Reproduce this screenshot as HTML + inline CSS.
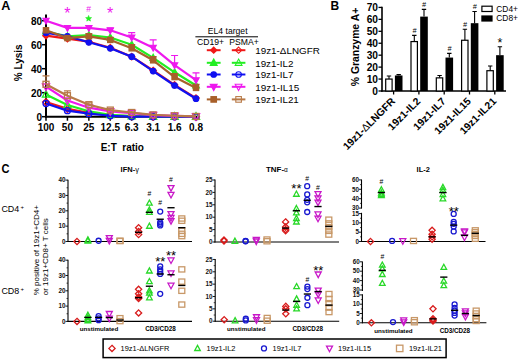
<!DOCTYPE html>
<html><head><meta charset="utf-8"><style>
html,body{margin:0;padding:0;background:#fff;}
body{width:520px;height:360px;overflow:hidden;}
svg{display:block;font-family:"Liberation Sans", sans-serif;}
</style></head><body>
<svg width="520" height="360" viewBox="0 0 520 360">
<rect width="520" height="360" fill="#fff"/>
<text x="1.3" y="10.2" font-size="12.6" font-weight="bold" text-anchor="start" fill="#000">A</text>
<path d="M46 14.4V117.7" stroke="#000" stroke-width="2" fill="none"/>
<path d="M45 116.7H197.01" stroke="#000" stroke-width="2" fill="none"/>
<path d="M42 116.7H46" stroke="#000" stroke-width="1.5"/>
<text x="42" y="121" font-size="10" font-weight="bold" text-anchor="end" fill="#000">0</text>
<path d="M42 92.7H46" stroke="#000" stroke-width="1.5"/>
<text x="42" y="97" font-size="10" font-weight="bold" text-anchor="end" fill="#000">20</text>
<path d="M42 68.7H46" stroke="#000" stroke-width="1.5"/>
<text x="42" y="73" font-size="10" font-weight="bold" text-anchor="end" fill="#000">40</text>
<path d="M42 44.7H46" stroke="#000" stroke-width="1.5"/>
<text x="42" y="49" font-size="10" font-weight="bold" text-anchor="end" fill="#000">60</text>
<path d="M42 20.7H46" stroke="#000" stroke-width="1.5"/>
<text x="42" y="25" font-size="10" font-weight="bold" text-anchor="end" fill="#000">80</text>
<path d="M46 116.7V120.7" stroke="#000" stroke-width="1.5"/>
<text x="46" y="131.3" font-size="10" font-weight="bold" text-anchor="middle" fill="#000">100</text>
<path d="M67.43 116.7V120.7" stroke="#000" stroke-width="1.5"/>
<text x="67.43" y="131.3" font-size="10" font-weight="bold" text-anchor="middle" fill="#000">50</text>
<path d="M88.86 116.7V120.7" stroke="#000" stroke-width="1.5"/>
<text x="88.86" y="131.3" font-size="10" font-weight="bold" text-anchor="middle" fill="#000">25</text>
<path d="M110.29 116.7V120.7" stroke="#000" stroke-width="1.5"/>
<text x="110.29" y="131.3" font-size="10" font-weight="bold" text-anchor="middle" fill="#000">12.5</text>
<path d="M131.72 116.7V120.7" stroke="#000" stroke-width="1.5"/>
<text x="131.72" y="131.3" font-size="10" font-weight="bold" text-anchor="middle" fill="#000">6.3</text>
<path d="M153.15 116.7V120.7" stroke="#000" stroke-width="1.5"/>
<text x="153.15" y="131.3" font-size="10" font-weight="bold" text-anchor="middle" fill="#000">3.1</text>
<path d="M174.58 116.7V120.7" stroke="#000" stroke-width="1.5"/>
<text x="174.58" y="131.3" font-size="10" font-weight="bold" text-anchor="middle" fill="#000">1.6</text>
<path d="M196.01 116.7V120.7" stroke="#000" stroke-width="1.5"/>
<text x="196.01" y="131.3" font-size="10" font-weight="bold" text-anchor="middle" fill="#000">0.8</text>
<text x="122.3" y="150.8" font-size="10" font-weight="bold" text-anchor="middle" fill="#000">E:T&#160; ratio</text>
<text x="0" y="0" font-size="10" font-weight="bold" text-anchor="middle" fill="#000" transform="translate(22 62.8) rotate(-90)">% Lysis</text>
<polyline points="46,102.06 67.43,108.9 88.86,112.74 110.29,115.5 131.72,116.22 153.15,116.7 174.58,116.7 196.01,116.7" fill="none" stroke="#f01818" stroke-width="2.2" stroke-linejoin="round"/>
<path d="M46 98.66L49.4 102.06L46 105.46L42.6 102.06Z" fill="none" stroke="#f01818" stroke-width="1.3"/>
<path d="M67.43 105.5L70.83 108.9L67.43 112.3L64.03 108.9Z" fill="none" stroke="#f01818" stroke-width="1.3"/>
<path d="M88.86 109.34L92.26 112.74L88.86 116.14L85.46 112.74Z" fill="none" stroke="#f01818" stroke-width="1.3"/>
<path d="M110.29 112.1L113.69 115.5L110.29 118.9L106.89 115.5Z" fill="none" stroke="#f01818" stroke-width="1.3"/>
<path d="M131.72 112.82L135.12 116.22L131.72 119.62L128.32 116.22Z" fill="none" stroke="#f01818" stroke-width="1.3"/>
<path d="M153.15 113.3L156.55 116.7L153.15 120.1L149.75 116.7Z" fill="none" stroke="#f01818" stroke-width="1.3"/>
<path d="M174.58 113.3L177.98 116.7L174.58 120.1L171.18 116.7Z" fill="none" stroke="#f01818" stroke-width="1.3"/>
<path d="M196.01 113.3L199.41 116.7L196.01 120.1L192.61 116.7Z" fill="none" stroke="#f01818" stroke-width="1.3"/>
<polyline points="46,94.5 67.43,104.94 88.86,111.3 110.29,114.9 131.72,116.1 153.15,116.7 174.58,116.7 196.01,116.7" fill="none" stroke="#22ee22" stroke-width="2.2" stroke-linejoin="round"/>
<path d="M46 90.54L49.6 97.2L42.4 97.2Z" fill="none" stroke="#22ee22" stroke-width="1.3"/>
<path d="M67.43 100.98L71.03 107.64L63.83 107.64Z" fill="none" stroke="#22ee22" stroke-width="1.3"/>
<path d="M88.86 107.34L92.46 114L85.26 114Z" fill="none" stroke="#22ee22" stroke-width="1.3"/>
<path d="M110.29 110.94L113.89 117.6L106.69 117.6Z" fill="none" stroke="#22ee22" stroke-width="1.3"/>
<path d="M131.72 112.14L135.32 118.8L128.12 118.8Z" fill="none" stroke="#22ee22" stroke-width="1.3"/>
<path d="M153.15 112.74L156.75 119.4L149.55 119.4Z" fill="none" stroke="#22ee22" stroke-width="1.3"/>
<path d="M174.58 112.74L178.18 119.4L170.98 119.4Z" fill="none" stroke="#22ee22" stroke-width="1.3"/>
<path d="M196.01 112.74L199.61 119.4L192.41 119.4Z" fill="none" stroke="#22ee22" stroke-width="1.3"/>
<polyline points="46,103.5 67.43,110.7 88.86,113.7 110.29,115.74 131.72,116.7 153.15,116.7 174.58,116.7 196.01,116.7" fill="none" stroke="#1010f0" stroke-width="2.2" stroke-linejoin="round"/>
<circle cx="46" cy="103.5" r="3" fill="none" stroke="#1010f0" stroke-width="1.3"/>
<circle cx="67.43" cy="110.7" r="3" fill="none" stroke="#1010f0" stroke-width="1.3"/>
<circle cx="88.86" cy="113.7" r="3" fill="none" stroke="#1010f0" stroke-width="1.3"/>
<circle cx="110.29" cy="115.74" r="3" fill="none" stroke="#1010f0" stroke-width="1.3"/>
<circle cx="131.72" cy="116.7" r="3" fill="none" stroke="#1010f0" stroke-width="1.3"/>
<circle cx="153.15" cy="116.7" r="3" fill="none" stroke="#1010f0" stroke-width="1.3"/>
<circle cx="174.58" cy="116.7" r="3" fill="none" stroke="#1010f0" stroke-width="1.3"/>
<circle cx="196.01" cy="116.7" r="3" fill="none" stroke="#1010f0" stroke-width="1.3"/>
<polyline points="46,86.7 67.43,100.5 88.86,107.7 110.29,111.3 131.72,113.1 153.15,115.14 174.58,115.86 196.01,116.34" fill="none" stroke="#ee18ee" stroke-width="2.2" stroke-linejoin="round"/>
<path d="M46 90.66L49.6 84L42.4 84Z" fill="none" stroke="#ee18ee" stroke-width="1.3"/>
<path d="M67.43 104.46L71.03 97.8L63.83 97.8Z" fill="none" stroke="#ee18ee" stroke-width="1.3"/>
<path d="M88.86 111.66L92.46 105L85.26 105Z" fill="none" stroke="#ee18ee" stroke-width="1.3"/>
<path d="M110.29 115.26L113.89 108.6L106.69 108.6Z" fill="none" stroke="#ee18ee" stroke-width="1.3"/>
<path d="M131.72 117.06L135.32 110.4L128.12 110.4Z" fill="none" stroke="#ee18ee" stroke-width="1.3"/>
<path d="M153.15 119.1L156.75 112.44L149.55 112.44Z" fill="none" stroke="#ee18ee" stroke-width="1.3"/>
<path d="M174.58 119.82L178.18 113.16L170.98 113.16Z" fill="none" stroke="#ee18ee" stroke-width="1.3"/>
<path d="M196.01 120.3L199.61 113.64L192.41 113.64Z" fill="none" stroke="#ee18ee" stroke-width="1.3"/>
<polyline points="46,84.3 67.43,95.7 88.86,104.7 110.29,110.1 131.72,112.5 153.15,114.9 174.58,115.74 196.01,116.46" fill="none" stroke="#b87a48" stroke-width="2.2" stroke-linejoin="round"/>
<path d="M46 84.3V75.9M42.5 75.9H49.5" stroke="#b87a48" stroke-width="1.2" fill="none"/>
<path d="M67.43 95.7V90.9M63.93 90.9H70.93" stroke="#b87a48" stroke-width="1.2" fill="none"/>
<path d="M88.86 104.7V102.9M85.36 102.9H92.36" stroke="#b87a48" stroke-width="1.2" fill="none"/>
<path d="M110.29 110.1V108.9M106.79 108.9H113.79" stroke="#b87a48" stroke-width="1.2" fill="none"/>
<path d="M131.72 112.5V111.9M128.22 111.9H135.22" stroke="#b87a48" stroke-width="1.2" fill="none"/>
<path d="M153.15 114.9V114.3M149.65 114.3H156.65" stroke="#b87a48" stroke-width="1.2" fill="none"/>
<path d="M174.58 115.74V115.38M171.08 115.38H178.08" stroke="#b87a48" stroke-width="1.2" fill="none"/>
<rect x="43" y="81.3" width="6" height="6" fill="none" stroke="#b87a48" stroke-width="1.3"/>
<rect x="64.43" y="92.7" width="6" height="6" fill="none" stroke="#b87a48" stroke-width="1.3"/>
<rect x="85.86" y="101.7" width="6" height="6" fill="none" stroke="#b87a48" stroke-width="1.3"/>
<rect x="107.29" y="107.1" width="6" height="6" fill="none" stroke="#b87a48" stroke-width="1.3"/>
<rect x="128.72" y="109.5" width="6" height="6" fill="none" stroke="#b87a48" stroke-width="1.3"/>
<rect x="150.15" y="111.9" width="6" height="6" fill="none" stroke="#b87a48" stroke-width="1.3"/>
<rect x="171.58" y="112.74" width="6" height="6" fill="none" stroke="#b87a48" stroke-width="1.3"/>
<rect x="193.01" y="113.46" width="6" height="6" fill="none" stroke="#b87a48" stroke-width="1.3"/>
<polyline points="46,35.7 67.43,38.7 88.86,41.7 110.29,47.7 131.72,56.7 153.15,70.5 174.58,84.9 196.01,98.1" fill="none" stroke="#f01818" stroke-width="2.2" stroke-linejoin="round"/>
<path d="M46 32.5L49.2 35.7L46 38.9L42.8 35.7Z" fill="#f01818" stroke="#f01818" stroke-width="1.3"/>
<path d="M67.43 35.5L70.63 38.7L67.43 41.9L64.23 38.7Z" fill="#f01818" stroke="#f01818" stroke-width="1.3"/>
<path d="M88.86 38.5L92.06 41.7L88.86 44.9L85.66 41.7Z" fill="#f01818" stroke="#f01818" stroke-width="1.3"/>
<path d="M110.29 44.5L113.49 47.7L110.29 50.9L107.09 47.7Z" fill="#f01818" stroke="#f01818" stroke-width="1.3"/>
<path d="M131.72 53.5L134.92 56.7L131.72 59.9L128.52 56.7Z" fill="#f01818" stroke="#f01818" stroke-width="1.3"/>
<path d="M153.15 67.3L156.35 70.5L153.15 73.7L149.95 70.5Z" fill="#f01818" stroke="#f01818" stroke-width="1.3"/>
<path d="M174.58 81.7L177.78 84.9L174.58 88.1L171.38 84.9Z" fill="#f01818" stroke="#f01818" stroke-width="1.3"/>
<path d="M196.01 94.9L199.21 98.1L196.01 101.3L192.81 98.1Z" fill="#f01818" stroke="#f01818" stroke-width="1.3"/>
<polyline points="46,31.5 67.43,36.3 88.86,35.1 110.29,37.5 131.72,44.7 153.15,57.9 174.58,72.3 196.01,85.5" fill="none" stroke="#22ee22" stroke-width="2.2" stroke-linejoin="round"/>
<path d="M46 27.98L49.2 33.9L42.8 33.9Z" fill="#22ee22" stroke="#22ee22" stroke-width="1.3"/>
<path d="M67.43 32.78L70.63 38.7L64.23 38.7Z" fill="#22ee22" stroke="#22ee22" stroke-width="1.3"/>
<path d="M88.86 31.58L92.06 37.5L85.66 37.5Z" fill="#22ee22" stroke="#22ee22" stroke-width="1.3"/>
<path d="M110.29 33.98L113.49 39.9L107.09 39.9Z" fill="#22ee22" stroke="#22ee22" stroke-width="1.3"/>
<path d="M131.72 41.18L134.92 47.1L128.52 47.1Z" fill="#22ee22" stroke="#22ee22" stroke-width="1.3"/>
<path d="M153.15 54.38L156.35 60.3L149.95 60.3Z" fill="#22ee22" stroke="#22ee22" stroke-width="1.3"/>
<path d="M174.58 68.78L177.78 74.7L171.38 74.7Z" fill="#22ee22" stroke="#22ee22" stroke-width="1.3"/>
<path d="M196.01 81.98L199.21 87.9L192.81 87.9Z" fill="#22ee22" stroke="#22ee22" stroke-width="1.3"/>
<polyline points="46,32.7 67.43,36.3 88.86,42.3 110.29,48.3 131.72,56.7 153.15,71.1 174.58,85.5 196.01,98.7" fill="none" stroke="#1010f0" stroke-width="2.2" stroke-linejoin="round"/>
<circle cx="46" cy="32.7" r="2.7" fill="#1010f0" stroke="#1010f0" stroke-width="1.3"/>
<circle cx="67.43" cy="36.3" r="2.7" fill="#1010f0" stroke="#1010f0" stroke-width="1.3"/>
<circle cx="88.86" cy="42.3" r="2.7" fill="#1010f0" stroke="#1010f0" stroke-width="1.3"/>
<circle cx="110.29" cy="48.3" r="2.7" fill="#1010f0" stroke="#1010f0" stroke-width="1.3"/>
<circle cx="131.72" cy="56.7" r="2.7" fill="#1010f0" stroke="#1010f0" stroke-width="1.3"/>
<circle cx="153.15" cy="71.1" r="2.7" fill="#1010f0" stroke="#1010f0" stroke-width="1.3"/>
<circle cx="174.58" cy="85.5" r="2.7" fill="#1010f0" stroke="#1010f0" stroke-width="1.3"/>
<circle cx="196.01" cy="98.7" r="2.7" fill="#1010f0" stroke="#1010f0" stroke-width="1.3"/>
<polyline points="46,30.3 67.43,38.1 88.86,36.3 110.29,39.9 131.72,48.3 153.15,60.3 174.58,77.1 196.01,87.9" fill="none" stroke="#a8602a" stroke-width="2.2" stroke-linejoin="round"/>
<path d="M88.86 36.3V33.9M85.36 33.9H92.36" stroke="#a8602a" stroke-width="1.2" fill="none"/>
<path d="M110.29 39.9V37.5M106.79 37.5H113.79" stroke="#a8602a" stroke-width="1.2" fill="none"/>
<path d="M131.72 48.3V44.7M128.22 44.7H135.22" stroke="#a8602a" stroke-width="1.2" fill="none"/>
<path d="M153.15 60.3V56.7M149.65 56.7H156.65" stroke="#a8602a" stroke-width="1.2" fill="none"/>
<path d="M174.58 77.1V73.5M171.08 73.5H178.08" stroke="#a8602a" stroke-width="1.2" fill="none"/>
<path d="M196.01 87.9V84.3M192.51 84.3H199.51" stroke="#a8602a" stroke-width="1.2" fill="none"/>
<rect x="43.4" y="27.7" width="5.2" height="5.2" fill="#a8602a" stroke="#a8602a" stroke-width="1.3"/>
<rect x="64.83" y="35.5" width="5.2" height="5.2" fill="#a8602a" stroke="#a8602a" stroke-width="1.3"/>
<rect x="86.26" y="33.7" width="5.2" height="5.2" fill="#a8602a" stroke="#a8602a" stroke-width="1.3"/>
<rect x="107.69" y="37.3" width="5.2" height="5.2" fill="#a8602a" stroke="#a8602a" stroke-width="1.3"/>
<rect x="129.12" y="45.7" width="5.2" height="5.2" fill="#a8602a" stroke="#a8602a" stroke-width="1.3"/>
<rect x="150.55" y="57.7" width="5.2" height="5.2" fill="#a8602a" stroke="#a8602a" stroke-width="1.3"/>
<rect x="171.98" y="74.5" width="5.2" height="5.2" fill="#a8602a" stroke="#a8602a" stroke-width="1.3"/>
<rect x="193.41" y="85.3" width="5.2" height="5.2" fill="#a8602a" stroke="#a8602a" stroke-width="1.3"/>
<polyline points="46,20.7 67.43,27.9 88.86,27.9 110.29,30.3 131.72,37.5 153.15,47.7 174.58,65.1 196.01,80.1" fill="none" stroke="#ee18ee" stroke-width="2.2" stroke-linejoin="round"/>
<path d="M110.29 30.3V27.9M106.79 27.9H113.79" stroke="#ee18ee" stroke-width="1.2" fill="none"/>
<path d="M131.72 37.5V32.7M128.22 32.7H135.22" stroke="#ee18ee" stroke-width="1.2" fill="none"/>
<path d="M153.15 47.7V39.9M149.65 39.9H156.65" stroke="#ee18ee" stroke-width="1.2" fill="none"/>
<path d="M174.58 65.1V55.5M171.08 55.5H178.08" stroke="#ee18ee" stroke-width="1.2" fill="none"/>
<path d="M196.01 80.1V72.9M192.51 72.9H199.51" stroke="#ee18ee" stroke-width="1.2" fill="none"/>
<path d="M46 24L49 18.45L43 18.45Z" fill="#ee18ee" stroke="#ee18ee" stroke-width="1.3"/>
<path d="M67.43 31.2L70.43 25.65L64.43 25.65Z" fill="#ee18ee" stroke="#ee18ee" stroke-width="1.3"/>
<path d="M88.86 31.2L91.86 25.65L85.86 25.65Z" fill="#ee18ee" stroke="#ee18ee" stroke-width="1.3"/>
<path d="M110.29 33.6L113.29 28.05L107.29 28.05Z" fill="#ee18ee" stroke="#ee18ee" stroke-width="1.3"/>
<path d="M131.72 40.8L134.72 35.25L128.72 35.25Z" fill="#ee18ee" stroke="#ee18ee" stroke-width="1.3"/>
<path d="M153.15 51L156.15 45.45L150.15 45.45Z" fill="#ee18ee" stroke="#ee18ee" stroke-width="1.3"/>
<path d="M174.58 68.4L177.58 62.85L171.58 62.85Z" fill="#ee18ee" stroke="#ee18ee" stroke-width="1.3"/>
<path d="M196.01 83.4L199.01 77.85L193.01 77.85Z" fill="#ee18ee" stroke="#ee18ee" stroke-width="1.3"/>
<text x="67.4" y="19.2" font-size="16" font-weight="normal" text-anchor="middle" fill="#ee18ee">*</text>
<text x="88.6" y="12.3" font-size="8.5" font-weight="normal" text-anchor="middle" fill="#ee18ee">#</text>
<text x="110.2" y="19.2" font-size="16" font-weight="normal" text-anchor="middle" fill="#ee18ee">*</text>
<path d="M88.6 15.5L89.39 17.51L91.55 17.64L89.88 19.02L90.43 21.11L88.6 19.95L86.77 21.11L87.32 19.02L85.65 17.64L87.81 17.51Z" fill="#22ee22" stroke="#22ee22" stroke-width="0.65"/>
<text x="227.7" y="34.3" font-size="8.6" font-weight="normal" text-anchor="middle" fill="#000">EL4 target</text>
<path d="M195.4 36.8H258" stroke="#000" stroke-width="1"/>
<text x="210.5" y="45" font-size="8.6" font-weight="normal" text-anchor="middle" fill="#000">CD19+</text>
<text x="244" y="45" font-size="8.6" font-weight="normal" text-anchor="middle" fill="#000">PSMA+</text>
<path d="M206.8 50.2H220.6" stroke="#f01818" stroke-width="2"/>
<path d="M231.8 50.2H245.4" stroke="#f01818" stroke-width="2"/>
<path d="M213.7 47.2L216.7 50.2L213.7 53.2L210.7 50.2Z" fill="#f01818" stroke="#f01818" stroke-width="1.3"/>
<path d="M238.6 47.1L241.7 50.2L238.6 53.3L235.5 50.2Z" fill="none" stroke="#f01818" stroke-width="1.1"/>
<text x="255.2" y="54.1" font-size="9.3" font-weight="normal" text-anchor="start" fill="#000" textLength="64.6" lengthAdjust="spacingAndGlyphs">19z1-&#916;LNGFR</text>
<path d="M206.8 62.8H220.6" stroke="#22ee22" stroke-width="2"/>
<path d="M231.8 62.8H245.4" stroke="#22ee22" stroke-width="2"/>
<path d="M213.7 59.17L217 65.27L210.4 65.27Z" fill="#22ee22" stroke="#22ee22" stroke-width="1.3"/>
<path d="M238.6 59.06L242 65.35L235.2 65.35Z" fill="none" stroke="#22ee22" stroke-width="1.1"/>
<text x="255.2" y="66.7" font-size="9.3" font-weight="normal" text-anchor="start" fill="#000" textLength="38.2" lengthAdjust="spacingAndGlyphs">19z1-IL2</text>
<path d="M206.8 74.5H220.6" stroke="#1010f0" stroke-width="2"/>
<path d="M231.8 74.5H245.4" stroke="#1010f0" stroke-width="2"/>
<circle cx="213.7" cy="74.5" r="2.7" fill="#1010f0" stroke="#1010f0" stroke-width="1.3"/>
<circle cx="238.6" cy="74.5" r="2.8" fill="none" stroke="#1010f0" stroke-width="1.1"/>
<text x="255.2" y="78.4" font-size="9.3" font-weight="normal" text-anchor="start" fill="#000" textLength="38.2" lengthAdjust="spacingAndGlyphs">19z1-IL7</text>
<path d="M206.8 86.8H220.6" stroke="#ee18ee" stroke-width="2"/>
<path d="M231.8 86.8H245.4" stroke="#ee18ee" stroke-width="2"/>
<path d="M213.7 90.43L217 84.33L210.4 84.33Z" fill="#ee18ee" stroke="#ee18ee" stroke-width="1.3"/>
<path d="M238.6 90.54L242 84.25L235.2 84.25Z" fill="none" stroke="#ee18ee" stroke-width="1.1"/>
<text x="255.2" y="90.7" font-size="9.3" font-weight="normal" text-anchor="start" fill="#000" textLength="44.2" lengthAdjust="spacingAndGlyphs">19z1-IL15</text>
<path d="M206.8 99.4H220.6" stroke="#a8602a" stroke-width="2"/>
<path d="M231.8 99.4H245.4" stroke="#b87a48" stroke-width="2"/>
<rect x="211" y="96.7" width="5.4" height="5.4" fill="#a8602a" stroke="#a8602a" stroke-width="1.3"/>
<rect x="235.8" y="96.6" width="5.6" height="5.6" fill="none" stroke="#b87a48" stroke-width="1.1"/>
<text x="255.2" y="103.3" font-size="9.3" font-weight="normal" text-anchor="start" fill="#000" textLength="43.6" lengthAdjust="spacingAndGlyphs">19z1-IL21</text>
<text x="330.5" y="10" font-size="12" font-weight="bold" text-anchor="start" fill="#000">B</text>
<path d="M382 6.82V91.8" stroke="#000" stroke-width="1.6" fill="none"/>
<path d="M381.2 91H506" stroke="#000" stroke-width="1.6" fill="none"/>
<path d="M378.5 91H382" stroke="#000" stroke-width="1.3"/>
<text x="378" y="94.7" font-size="10.2" font-weight="bold" text-anchor="end" fill="#000">0</text>
<path d="M378.5 79.06H382" stroke="#000" stroke-width="1.3"/>
<text x="378" y="82.76" font-size="10.2" font-weight="bold" text-anchor="end" fill="#000">10</text>
<path d="M378.5 67.12H382" stroke="#000" stroke-width="1.3"/>
<text x="378" y="70.82" font-size="10.2" font-weight="bold" text-anchor="end" fill="#000">20</text>
<path d="M378.5 55.18H382" stroke="#000" stroke-width="1.3"/>
<text x="378" y="58.88" font-size="10.2" font-weight="bold" text-anchor="end" fill="#000">30</text>
<path d="M378.5 43.24H382" stroke="#000" stroke-width="1.3"/>
<text x="378" y="46.94" font-size="10.2" font-weight="bold" text-anchor="end" fill="#000">40</text>
<path d="M378.5 31.3H382" stroke="#000" stroke-width="1.3"/>
<text x="378" y="35" font-size="10.2" font-weight="bold" text-anchor="end" fill="#000">50</text>
<path d="M378.5 19.36H382" stroke="#000" stroke-width="1.3"/>
<text x="378" y="23.06" font-size="10.2" font-weight="bold" text-anchor="end" fill="#000">60</text>
<path d="M378.5 7.42H382" stroke="#000" stroke-width="1.3"/>
<text x="378" y="11.12" font-size="10.2" font-weight="bold" text-anchor="end" fill="#000">70</text>
<text x="0" y="0" font-size="10.4" font-weight="bold" text-anchor="middle" fill="#000" transform="translate(358.9 47) rotate(-90)">% Granzyme A+</text>
<path d="M393.6 91V94.5" stroke="#000" stroke-width="1.3"/>
<path d="M389 79.06V75.96M386.8 75.96H391.2" stroke="#000" stroke-width="1.1"/>
<rect x="385.7" y="79.06" width="6.4" height="11.94" fill="#fff" stroke="#000" stroke-width="1.2"/>
<path d="M398.7 75.48V74.64M396.5 74.64H400.9" stroke="#000" stroke-width="1.1"/>
<rect x="394.9" y="75.48" width="7.6" height="15.52" fill="#000"/>
<path d="M418.9 91V94.5" stroke="#000" stroke-width="1.3"/>
<path d="M414.3 41.57V35.36M412.1 35.36H416.5" stroke="#000" stroke-width="1.1"/>
<rect x="411" y="41.57" width="6.4" height="49.43" fill="#fff" stroke="#000" stroke-width="1.2"/>
<path d="M424 16.61V9.33M421.8 9.33H426.2" stroke="#000" stroke-width="1.1"/>
<rect x="420.2" y="16.61" width="7.6" height="74.39" fill="#000"/>
<path d="M444.2 91V94.5" stroke="#000" stroke-width="1.3"/>
<path d="M439.6 77.87V75.48M437.4 75.48H441.8" stroke="#000" stroke-width="1.1"/>
<rect x="436.3" y="77.87" width="6.4" height="13.13" fill="#fff" stroke="#000" stroke-width="1.2"/>
<path d="M449.3 57.57V53.39M447.1 53.39H451.5" stroke="#000" stroke-width="1.1"/>
<rect x="445.5" y="57.57" width="7.6" height="33.43" fill="#000"/>
<path d="M469.5 91V94.5" stroke="#000" stroke-width="1.3"/>
<path d="M464.9 40.26V29.27M462.7 29.27H467.1" stroke="#000" stroke-width="1.1"/>
<rect x="461.6" y="40.26" width="6.4" height="50.74" fill="#fff" stroke="#000" stroke-width="1.2"/>
<path d="M474.6 23.18V11.48M472.4 11.48H476.8" stroke="#000" stroke-width="1.1"/>
<rect x="470.8" y="23.18" width="7.6" height="67.82" fill="#000"/>
<path d="M494.8 91V94.5" stroke="#000" stroke-width="1.3"/>
<path d="M490.2 70.7V65.93M488 65.93H492.4" stroke="#000" stroke-width="1.1"/>
<rect x="486.9" y="70.7" width="6.4" height="20.3" fill="#fff" stroke="#000" stroke-width="1.2"/>
<path d="M499.9 55.18V46.82M497.7 46.82H502.1" stroke="#000" stroke-width="1.1"/>
<rect x="496.1" y="55.18" width="7.6" height="35.82" fill="#000"/>
<text x="414.4" y="32.86" font-size="7.2" font-weight="normal" text-anchor="middle" fill="#000" font-style="italic">#</text>
<text x="424.1" y="6.83" font-size="7.2" font-weight="normal" text-anchor="middle" fill="#000" font-style="italic">#</text>
<text x="449.4" y="50.89" font-size="7.2" font-weight="normal" text-anchor="middle" fill="#000" font-style="italic">#</text>
<text x="465" y="26.77" font-size="7.2" font-weight="normal" text-anchor="middle" fill="#000" font-style="italic">#</text>
<text x="474.7" y="8.98" font-size="7.2" font-weight="normal" text-anchor="middle" fill="#000" font-style="italic">#</text>
<text x="499.9" y="47" font-size="12.5" font-weight="normal" text-anchor="middle" fill="#000">*</text>
<text x="0" y="0" font-size="10.4" font-weight="bold" text-anchor="end" fill="#000" transform="translate(395.8 101.9) rotate(-45)">19z1-<tspan font-weight="normal">&#916;</tspan>LNGFR</text>
<text x="0" y="0" font-size="10.4" font-weight="bold" text-anchor="end" fill="#000" transform="translate(421.1 101.9) rotate(-45)">19z1-IL2</text>
<text x="0" y="0" font-size="10.4" font-weight="bold" text-anchor="end" fill="#000" transform="translate(446.4 101.9) rotate(-45)">19z1-IL7</text>
<text x="0" y="0" font-size="10.4" font-weight="bold" text-anchor="end" fill="#000" transform="translate(471.7 101.9) rotate(-45)">19z1-IL15</text>
<text x="0" y="0" font-size="10.4" font-weight="bold" text-anchor="end" fill="#000" transform="translate(497 101.9) rotate(-45)">19z1-IL21</text>
<rect x="481.9" y="6.2" width="10.2" height="5.3" fill="#fff" stroke="#000" stroke-width="1.2"/>
<rect x="481.3" y="15.4" width="11.3" height="6.2" fill="#000"/>
<text x="496.3" y="11.7" font-size="8.4" font-weight="normal" text-anchor="start" fill="#000">CD4+</text>
<text x="496.3" y="21.4" font-size="8.4" font-weight="normal" text-anchor="start" fill="#000">CD8+</text>
<text x="1.4" y="172.9" font-size="12" font-weight="bold" text-anchor="start" fill="#000" textLength="8" lengthAdjust="spacingAndGlyphs">C</text>
<text x="1.4" y="211.8" font-size="9.7" fill="#000" textLength="17.9" lengthAdjust="spacingAndGlyphs">CD4</text>
<text x="20.4" y="208.6" font-size="6" fill="#000">+</text>
<text x="1.4" y="294.3" font-size="9.7" fill="#000" textLength="17.9" lengthAdjust="spacingAndGlyphs">CD8</text>
<text x="20.4" y="291.1" font-size="6" fill="#000">+</text>
<text x="0" y="0" font-size="8" font-weight="normal" text-anchor="start" fill="#000" transform="translate(39.3 295.3) rotate(-90)">% positive of 19z1+CD4+</text>
<text x="0" y="0" font-size="8" font-weight="normal" text-anchor="start" fill="#000" transform="translate(48.2 295.3) rotate(-90)">or 19z1+CD8+ T cells</text>
<path d="M68 179.7V242" stroke="#000" stroke-width="1.1"/>
<path d="M67.5 241.5H192" stroke="#000" stroke-width="1.1"/>
<path d="M66.5 233.82H68" stroke="#000" stroke-width="0.7"/>
<path d="M66.5 218.47H68" stroke="#000" stroke-width="0.7"/>
<path d="M66.5 203.12H68" stroke="#000" stroke-width="0.7"/>
<path d="M66.5 187.78H68" stroke="#000" stroke-width="0.7"/>
<path d="M65.5 241.5H68" stroke="#000" stroke-width="0.9"/>
<text x="65.4" y="243.7" font-size="6.3" font-weight="bold" text-anchor="end" fill="#111">0</text>
<path d="M65.5 226.15H68" stroke="#000" stroke-width="0.9"/>
<text x="65.4" y="228.35" font-size="6.3" font-weight="bold" text-anchor="end" fill="#111">10</text>
<path d="M65.5 210.8H68" stroke="#000" stroke-width="0.9"/>
<text x="65.4" y="213" font-size="6.3" font-weight="bold" text-anchor="end" fill="#111">20</text>
<path d="M65.5 195.45H68" stroke="#000" stroke-width="0.9"/>
<text x="65.4" y="197.65" font-size="6.3" font-weight="bold" text-anchor="end" fill="#111">30</text>
<path d="M65.5 180.1H68" stroke="#000" stroke-width="0.9"/>
<text x="65.4" y="182.3" font-size="6.3" font-weight="bold" text-anchor="end" fill="#111">40</text>
<path d="M77 238.4L80.1 241.5L77 244.6L73.9 241.5Z" fill="none" stroke="#d81c1c" stroke-width="1.3"/>
<path d="M87.9 236.88L90.7 242.06L85.1 242.06Z" fill="none" stroke="#28d828" stroke-width="1.3"/>
<path d="M87.9 237.81L90.7 242.99L85.1 242.99Z" fill="none" stroke="#28d828" stroke-width="1.3"/>
<circle cx="98.6" cy="240.73" r="2.5" fill="none" stroke="#1818d0" stroke-width="1.3"/>
<path d="M109.3 241.12L112.3 235.57L106.3 235.57Z" fill="none" stroke="#c818c8" stroke-width="1.3"/>
<path d="M109.3 243.88L112.3 238.33L106.3 238.33Z" fill="none" stroke="#c818c8" stroke-width="1.3"/>
<rect x="117" y="238.44" width="5.99" height="5.21" fill="none" stroke="#c89868" stroke-width="1.3"/>
<rect x="117" y="238.13" width="5.99" height="5.21" fill="none" stroke="#c89868" stroke-width="1.3"/>
<path d="M138.6 224.59L141.7 227.69L138.6 230.78L135.5 227.69Z" fill="none" stroke="#d81c1c" stroke-width="1.3"/>
<path d="M138.6 228.42L141.7 231.52L138.6 234.62L135.5 231.52Z" fill="none" stroke="#d81c1c" stroke-width="1.3"/>
<path d="M138.6 231.49L141.7 234.59L138.6 237.69L135.5 234.59Z" fill="none" stroke="#d81c1c" stroke-width="1.3"/>
<path d="M149.4 200.04L152.2 205.22L146.6 205.22Z" fill="none" stroke="#28d828" stroke-width="1.3"/>
<path d="M149.4 206.95L152.2 212.13L146.6 212.13Z" fill="none" stroke="#28d828" stroke-width="1.3"/>
<path d="M149.4 209.25L152.2 214.44L146.6 214.44Z" fill="none" stroke="#28d828" stroke-width="1.3"/>
<path d="M149.4 223.07L152.2 228.25L146.6 228.25Z" fill="none" stroke="#28d828" stroke-width="1.3"/>
<circle cx="160.2" cy="211.57" r="2.5" fill="none" stroke="#1818d0" stroke-width="1.3"/>
<circle cx="160.2" cy="222.31" r="2.5" fill="none" stroke="#1818d0" stroke-width="1.3"/>
<circle cx="160.2" cy="223.85" r="2.5" fill="none" stroke="#1818d0" stroke-width="1.3"/>
<circle cx="160.2" cy="225.38" r="2.5" fill="none" stroke="#1818d0" stroke-width="1.3"/>
<path d="M171 191.08L174 185.53L168 185.53Z" fill="none" stroke="#c818c8" stroke-width="1.3"/>
<path d="M171 197.98L174 192.43L168 192.43Z" fill="none" stroke="#c818c8" stroke-width="1.3"/>
<path d="M171 217.17L174 211.62L168 211.62Z" fill="none" stroke="#c818c8" stroke-width="1.3"/>
<path d="M171 221.01L174 215.46L168 215.46Z" fill="none" stroke="#c818c8" stroke-width="1.3"/>
<path d="M171 224.08L174 218.53L168 218.53Z" fill="none" stroke="#c818c8" stroke-width="1.3"/>
<rect x="178.8" y="215.87" width="5.99" height="5.21" fill="none" stroke="#c89868" stroke-width="1.3"/>
<rect x="178.8" y="218.17" width="5.99" height="5.21" fill="none" stroke="#c89868" stroke-width="1.3"/>
<rect x="178.8" y="228.15" width="5.99" height="5.21" fill="none" stroke="#c89868" stroke-width="1.3"/>
<rect x="178.8" y="231.22" width="5.99" height="5.21" fill="none" stroke="#c89868" stroke-width="1.3"/>
<rect x="178.8" y="233.52" width="5.99" height="5.21" fill="none" stroke="#c89868" stroke-width="1.3"/>
<path d="M135 232.29H142.2" stroke="#000" stroke-width="1.4"/>
<path d="M145.8 212.34H153" stroke="#000" stroke-width="1.4"/>
<path d="M156.6 219.24H163.8" stroke="#000" stroke-width="1.4"/>
<path d="M167.4 207.73H174.6" stroke="#000" stroke-width="1.4"/>
<path d="M178.2 227.69H185.4" stroke="#000" stroke-width="1.4"/>
<text x="149.4" y="196.31" font-size="6.8" font-weight="normal" text-anchor="middle" fill="#000">#</text>
<text x="160.2" y="204.76" font-size="6.8" font-weight="normal" text-anchor="middle" fill="#000">#</text>
<text x="171" y="181.73" font-size="6.8" font-weight="normal" text-anchor="middle" fill="#000">#</text>
<text x="120.6" y="172" font-size="8" font-weight="bold" text-anchor="start" fill="#000" textLength="18.3" lengthAdjust="spacingAndGlyphs">IFN-<tspan font-weight="normal">&#947;</tspan></text>
<path d="M68 259.8V321.9" stroke="#000" stroke-width="1.1"/>
<path d="M67.5 321.4H192" stroke="#000" stroke-width="1.1"/>
<path d="M66.5 313.75H68" stroke="#000" stroke-width="0.7"/>
<path d="M66.5 298.45H68" stroke="#000" stroke-width="0.7"/>
<path d="M66.5 283.15H68" stroke="#000" stroke-width="0.7"/>
<path d="M66.5 267.85H68" stroke="#000" stroke-width="0.7"/>
<path d="M65.5 321.4H68" stroke="#000" stroke-width="0.9"/>
<text x="65.4" y="323.6" font-size="6.3" font-weight="bold" text-anchor="end" fill="#111">0</text>
<path d="M65.5 306.1H68" stroke="#000" stroke-width="0.9"/>
<text x="65.4" y="308.3" font-size="6.3" font-weight="bold" text-anchor="end" fill="#111">10</text>
<path d="M65.5 290.8H68" stroke="#000" stroke-width="0.9"/>
<text x="65.4" y="293" font-size="6.3" font-weight="bold" text-anchor="end" fill="#111">20</text>
<path d="M65.5 275.5H68" stroke="#000" stroke-width="0.9"/>
<text x="65.4" y="277.7" font-size="6.3" font-weight="bold" text-anchor="end" fill="#111">30</text>
<path d="M65.5 260.2H68" stroke="#000" stroke-width="0.9"/>
<text x="65.4" y="262.4" font-size="6.3" font-weight="bold" text-anchor="end" fill="#111">40</text>
<path d="M77 318.3L80.1 321.4L77 324.5L73.9 321.4Z" fill="none" stroke="#d81c1c" stroke-width="1.3"/>
<path d="M87.9 312.2L90.7 317.38L85.1 317.38Z" fill="none" stroke="#28d828" stroke-width="1.3"/>
<path d="M87.9 314.5L90.7 319.68L85.1 319.68Z" fill="none" stroke="#28d828" stroke-width="1.3"/>
<path d="M87.9 316.48L90.7 321.66L85.1 321.66Z" fill="none" stroke="#28d828" stroke-width="1.3"/>
<path d="M87.9 317.56L90.7 322.74L85.1 322.74Z" fill="none" stroke="#28d828" stroke-width="1.3"/>
<circle cx="98.6" cy="316.04" r="2.5" fill="none" stroke="#1818d0" stroke-width="1.3"/>
<circle cx="98.6" cy="318.34" r="2.5" fill="none" stroke="#1818d0" stroke-width="1.3"/>
<circle cx="98.6" cy="320.18" r="2.5" fill="none" stroke="#1818d0" stroke-width="1.3"/>
<path d="M109.3 317.05L112.3 311.5L106.3 311.5Z" fill="none" stroke="#c818c8" stroke-width="1.3"/>
<path d="M109.3 321.64L112.3 316.09L106.3 316.09Z" fill="none" stroke="#c818c8" stroke-width="1.3"/>
<rect x="117" y="315.58" width="5.99" height="5.21" fill="none" stroke="#c89868" stroke-width="1.3"/>
<rect x="117" y="318.49" width="5.99" height="5.21" fill="none" stroke="#c89868" stroke-width="1.3"/>
<path d="M138.6 286.17L141.7 289.27L138.6 292.37L135.5 289.27Z" fill="none" stroke="#d81c1c" stroke-width="1.3"/>
<path d="M138.6 290.76L141.7 293.86L138.6 296.96L135.5 293.86Z" fill="none" stroke="#d81c1c" stroke-width="1.3"/>
<path d="M138.6 293.82L141.7 296.92L138.6 300.02L135.5 296.92Z" fill="none" stroke="#d81c1c" stroke-width="1.3"/>
<path d="M138.6 295.35L141.7 298.45L138.6 301.55L135.5 298.45Z" fill="none" stroke="#d81c1c" stroke-width="1.3"/>
<path d="M138.6 309.88L141.7 312.98L138.6 316.08L135.5 312.98Z" fill="none" stroke="#d81c1c" stroke-width="1.3"/>
<path d="M149.4 267.83L152.2 273.01L146.6 273.01Z" fill="none" stroke="#28d828" stroke-width="1.3"/>
<path d="M149.4 278.54L152.2 283.72L146.6 283.72Z" fill="none" stroke="#28d828" stroke-width="1.3"/>
<path d="M149.4 287.72L152.2 292.9L146.6 292.9Z" fill="none" stroke="#28d828" stroke-width="1.3"/>
<path d="M149.4 290.01L152.2 295.19L146.6 295.19Z" fill="none" stroke="#28d828" stroke-width="1.3"/>
<path d="M149.4 294.61L152.2 299.79L146.6 299.79Z" fill="none" stroke="#28d828" stroke-width="1.3"/>
<circle cx="160.2" cy="266.32" r="2.5" fill="none" stroke="#1818d0" stroke-width="1.3"/>
<circle cx="160.2" cy="269.38" r="2.5" fill="none" stroke="#1818d0" stroke-width="1.3"/>
<circle cx="160.2" cy="271.67" r="2.5" fill="none" stroke="#1818d0" stroke-width="1.3"/>
<circle cx="160.2" cy="273.97" r="2.5" fill="none" stroke="#1818d0" stroke-width="1.3"/>
<circle cx="160.2" cy="293.86" r="2.5" fill="none" stroke="#1818d0" stroke-width="1.3"/>
<path d="M171 263.5L174 257.95L168 257.95Z" fill="none" stroke="#c818c8" stroke-width="1.3"/>
<path d="M171 276.5L174 270.95L168 270.95Z" fill="none" stroke="#c818c8" stroke-width="1.3"/>
<path d="M171 288.75L174 283.19L168 283.19Z" fill="none" stroke="#c818c8" stroke-width="1.3"/>
<rect x="178.8" y="266.78" width="5.99" height="5.21" fill="none" stroke="#c89868" stroke-width="1.3"/>
<rect x="178.8" y="279.02" width="5.99" height="5.21" fill="none" stroke="#c89868" stroke-width="1.3"/>
<rect x="178.8" y="288.2" width="5.99" height="5.21" fill="none" stroke="#c89868" stroke-width="1.3"/>
<rect x="178.8" y="301.97" width="5.99" height="5.21" fill="none" stroke="#c89868" stroke-width="1.3"/>
<path d="M84.3 317.42H91.5" stroke="#000" stroke-width="1.4"/>
<path d="M95 317.42H102.2" stroke="#000" stroke-width="1.4"/>
<path d="M105.7 317.57H112.9" stroke="#000" stroke-width="1.4"/>
<path d="M116.4 320.02H123.6" stroke="#000" stroke-width="1.4"/>
<path d="M135 297.69H142.2" stroke="#000" stroke-width="1.4"/>
<path d="M145.8 286.21H153" stroke="#000" stroke-width="1.4"/>
<path d="M156.6 273.97H163.8" stroke="#000" stroke-width="1.4"/>
<path d="M167.4 274.73H174.6" stroke="#000" stroke-width="1.4"/>
<path d="M178.2 285.44H185.4" stroke="#000" stroke-width="1.4"/>
<text x="160.2" y="266.42" font-size="13" font-weight="normal" text-anchor="middle" fill="#000">**</text>
<text x="171" y="260.3" font-size="13" font-weight="normal" text-anchor="middle" fill="#000">**</text>
<text x="99" y="331.1" font-size="6.2" font-weight="bold" text-anchor="middle" fill="#000">unstimulated</text>
<text x="160.5" y="331.1" font-size="6.3" font-weight="bold" text-anchor="middle" fill="#000">CD3/CD28</text>
<path d="M215 179.6V242.5" stroke="#000" stroke-width="1.1"/>
<path d="M214.5 242H339" stroke="#000" stroke-width="1.1"/>
<path d="M213.5 235.8H215" stroke="#000" stroke-width="0.7"/>
<path d="M213.5 223.4H215" stroke="#000" stroke-width="0.7"/>
<path d="M213.5 211H215" stroke="#000" stroke-width="0.7"/>
<path d="M213.5 198.6H215" stroke="#000" stroke-width="0.7"/>
<path d="M213.5 186.2H215" stroke="#000" stroke-width="0.7"/>
<path d="M212.5 242H215" stroke="#000" stroke-width="0.9"/>
<text x="212.4" y="244.2" font-size="6.3" font-weight="bold" text-anchor="end" fill="#111">0</text>
<path d="M212.5 229.6H215" stroke="#000" stroke-width="0.9"/>
<text x="212.4" y="231.8" font-size="6.3" font-weight="bold" text-anchor="end" fill="#111">5</text>
<path d="M212.5 217.2H215" stroke="#000" stroke-width="0.9"/>
<text x="212.4" y="219.4" font-size="6.3" font-weight="bold" text-anchor="end" fill="#111">10</text>
<path d="M212.5 204.8H215" stroke="#000" stroke-width="0.9"/>
<text x="212.4" y="207" font-size="6.3" font-weight="bold" text-anchor="end" fill="#111">15</text>
<path d="M212.5 192.4H215" stroke="#000" stroke-width="0.9"/>
<text x="212.4" y="194.6" font-size="6.3" font-weight="bold" text-anchor="end" fill="#111">20</text>
<path d="M212.5 180H215" stroke="#000" stroke-width="0.9"/>
<text x="212.4" y="182.2" font-size="6.3" font-weight="bold" text-anchor="end" fill="#111">25</text>
<path d="M224 236.92L227.1 240.02L224 243.12L220.9 240.02Z" fill="none" stroke="#d81c1c" stroke-width="1.3"/>
<path d="M224 237.91L227.1 241.01L224 244.11L220.9 241.01Z" fill="none" stroke="#d81c1c" stroke-width="1.3"/>
<path d="M234.9 238.18L237.7 243.36L232.1 243.36Z" fill="none" stroke="#28d828" stroke-width="1.3"/>
<circle cx="245.6" cy="241.01" r="2.5" fill="none" stroke="#1818d0" stroke-width="1.3"/>
<circle cx="245.6" cy="241.26" r="2.5" fill="none" stroke="#1818d0" stroke-width="1.3"/>
<path d="M256.3 243.07L259.3 237.52L253.3 237.52Z" fill="none" stroke="#c818c8" stroke-width="1.3"/>
<path d="M256.3 244.56L259.3 239.01L253.3 239.01Z" fill="none" stroke="#c818c8" stroke-width="1.3"/>
<rect x="264" y="236.92" width="5.99" height="5.21" fill="none" stroke="#c89868" stroke-width="1.3"/>
<rect x="264" y="238.65" width="5.99" height="5.21" fill="none" stroke="#c89868" stroke-width="1.3"/>
<path d="M285.6 218.81L288.7 221.91L285.6 225.01L282.5 221.91Z" fill="none" stroke="#d81c1c" stroke-width="1.3"/>
<path d="M285.6 224.02L288.7 227.12L285.6 230.22L282.5 227.12Z" fill="none" stroke="#d81c1c" stroke-width="1.3"/>
<path d="M285.6 226.5L288.7 229.6L285.6 232.7L282.5 229.6Z" fill="none" stroke="#d81c1c" stroke-width="1.3"/>
<path d="M285.6 227.74L288.7 230.84L285.6 233.94L282.5 230.84Z" fill="none" stroke="#d81c1c" stroke-width="1.3"/>
<path d="M296.4 191.06L299.2 196.24L293.6 196.24Z" fill="none" stroke="#28d828" stroke-width="1.3"/>
<path d="M296.4 205.44L299.2 210.62L293.6 210.62Z" fill="none" stroke="#28d828" stroke-width="1.3"/>
<path d="M296.4 209.66L299.2 214.84L293.6 214.84Z" fill="none" stroke="#28d828" stroke-width="1.3"/>
<path d="M296.4 215.36L299.2 220.54L293.6 220.54Z" fill="none" stroke="#28d828" stroke-width="1.3"/>
<path d="M296.4 218.83L299.2 224.01L293.6 224.01Z" fill="none" stroke="#28d828" stroke-width="1.3"/>
<circle cx="307.2" cy="186.2" r="2.5" fill="none" stroke="#1818d0" stroke-width="1.3"/>
<circle cx="307.2" cy="194.38" r="2.5" fill="none" stroke="#1818d0" stroke-width="1.3"/>
<circle cx="307.2" cy="199.84" r="2.5" fill="none" stroke="#1818d0" stroke-width="1.3"/>
<circle cx="307.2" cy="202.32" r="2.5" fill="none" stroke="#1818d0" stroke-width="1.3"/>
<circle cx="307.2" cy="211.99" r="2.5" fill="none" stroke="#1818d0" stroke-width="1.3"/>
<path d="M318 197.19L321 191.64L315 191.64Z" fill="none" stroke="#c818c8" stroke-width="1.3"/>
<path d="M318 201.4L321 195.85L315 195.85Z" fill="none" stroke="#c818c8" stroke-width="1.3"/>
<path d="M318 205.62L321 200.07L315 200.07Z" fill="none" stroke="#c818c8" stroke-width="1.3"/>
<path d="M318 217.52L321 211.97L315 211.97Z" fill="none" stroke="#c818c8" stroke-width="1.3"/>
<path d="M318 221.74L321 216.19L315 216.19Z" fill="none" stroke="#c818c8" stroke-width="1.3"/>
<rect x="325.8" y="217.08" width="5.99" height="5.21" fill="none" stroke="#c89868" stroke-width="1.3"/>
<rect x="325.8" y="220.8" width="5.99" height="5.21" fill="none" stroke="#c89868" stroke-width="1.3"/>
<rect x="325.8" y="224.52" width="5.99" height="5.21" fill="none" stroke="#c89868" stroke-width="1.3"/>
<rect x="325.8" y="228.24" width="5.99" height="5.21" fill="none" stroke="#c89868" stroke-width="1.3"/>
<rect x="325.8" y="231.96" width="5.99" height="5.21" fill="none" stroke="#c89868" stroke-width="1.3"/>
<path d="M282 228.11H289.2" stroke="#000" stroke-width="1.4"/>
<path d="M292.8 210.75H300" stroke="#000" stroke-width="1.4"/>
<path d="M303.6 200.34H310.8" stroke="#000" stroke-width="1.4"/>
<path d="M314.4 206.54H321.6" stroke="#000" stroke-width="1.4"/>
<path d="M325.2 226.38H332.4" stroke="#000" stroke-width="1.4"/>
<text x="296.4" y="193.3" font-size="13" font-weight="normal" text-anchor="middle" fill="#000">**</text>
<text x="307.2" y="180.91" font-size="6.8" font-weight="normal" text-anchor="middle" fill="#000">#</text>
<text x="318" y="189.84" font-size="6.8" font-weight="normal" text-anchor="middle" fill="#000">#</text>
<text x="266" y="172" font-size="8" font-weight="bold" text-anchor="start" fill="#000" textLength="21.8" lengthAdjust="spacingAndGlyphs">TNF-<tspan font-weight="normal" font-size="6.5">&#945;</tspan></text>
<path d="M215.2 259.05V321.7" stroke="#000" stroke-width="1.1"/>
<path d="M214.7 321.2H339.2" stroke="#000" stroke-width="1.1"/>
<path d="M213.7 315.02H215.2" stroke="#000" stroke-width="0.7"/>
<path d="M213.7 302.68H215.2" stroke="#000" stroke-width="0.7"/>
<path d="M213.7 290.32H215.2" stroke="#000" stroke-width="0.7"/>
<path d="M213.7 277.97H215.2" stroke="#000" stroke-width="0.7"/>
<path d="M213.7 265.62H215.2" stroke="#000" stroke-width="0.7"/>
<path d="M212.7 321.2H215.2" stroke="#000" stroke-width="0.9"/>
<text x="212.6" y="323.4" font-size="6.3" font-weight="bold" text-anchor="end" fill="#111">0</text>
<path d="M212.7 308.85H215.2" stroke="#000" stroke-width="0.9"/>
<text x="212.6" y="311.05" font-size="6.3" font-weight="bold" text-anchor="end" fill="#111">5</text>
<path d="M212.7 296.5H215.2" stroke="#000" stroke-width="0.9"/>
<text x="212.6" y="298.7" font-size="6.3" font-weight="bold" text-anchor="end" fill="#111">10</text>
<path d="M212.7 284.15H215.2" stroke="#000" stroke-width="0.9"/>
<text x="212.6" y="286.35" font-size="6.3" font-weight="bold" text-anchor="end" fill="#111">15</text>
<path d="M212.7 271.8H215.2" stroke="#000" stroke-width="0.9"/>
<text x="212.6" y="274" font-size="6.3" font-weight="bold" text-anchor="end" fill="#111">20</text>
<path d="M212.7 259.45H215.2" stroke="#000" stroke-width="0.9"/>
<text x="212.6" y="261.65" font-size="6.3" font-weight="bold" text-anchor="end" fill="#111">25</text>
<path d="M224.2 316.62L227.3 319.72L224.2 322.82L221.1 319.72Z" fill="none" stroke="#d81c1c" stroke-width="1.3"/>
<path d="M235.1 317.63L237.9 322.81L232.3 322.81Z" fill="none" stroke="#28d828" stroke-width="1.3"/>
<circle cx="245.8" cy="318.73" r="2.5" fill="none" stroke="#1818d0" stroke-width="1.3"/>
<circle cx="245.8" cy="320.46" r="2.5" fill="none" stroke="#1818d0" stroke-width="1.3"/>
<path d="M256.5 320.3L259.5 314.75L253.5 314.75Z" fill="none" stroke="#c818c8" stroke-width="1.3"/>
<path d="M256.5 323.26L259.5 317.71L253.5 317.71Z" fill="none" stroke="#c818c8" stroke-width="1.3"/>
<rect x="264.2" y="315.38" width="5.99" height="5.21" fill="none" stroke="#c89868" stroke-width="1.3"/>
<rect x="264.2" y="318.1" width="5.99" height="5.21" fill="none" stroke="#c89868" stroke-width="1.3"/>
<path d="M285.8 303.28L288.9 306.38L285.8 309.48L282.7 306.38Z" fill="none" stroke="#d81c1c" stroke-width="1.3"/>
<path d="M285.8 305.75L288.9 308.85L285.8 311.95L282.7 308.85Z" fill="none" stroke="#d81c1c" stroke-width="1.3"/>
<path d="M285.8 310.69L288.9 313.79L285.8 316.89L282.7 313.79Z" fill="none" stroke="#d81c1c" stroke-width="1.3"/>
<path d="M296.6 283.54L299.4 288.72L293.8 288.72Z" fill="none" stroke="#28d828" stroke-width="1.3"/>
<path d="M296.6 295.89L299.4 301.07L293.8 301.07Z" fill="none" stroke="#28d828" stroke-width="1.3"/>
<path d="M296.6 302.06L299.4 307.25L293.8 307.25Z" fill="none" stroke="#28d828" stroke-width="1.3"/>
<path d="M296.6 305.77L299.4 310.95L293.8 310.95Z" fill="none" stroke="#28d828" stroke-width="1.3"/>
<circle cx="307.4" cy="286.62" r="2.5" fill="none" stroke="#1818d0" stroke-width="1.3"/>
<circle cx="307.4" cy="289.09" r="2.5" fill="none" stroke="#1818d0" stroke-width="1.3"/>
<circle cx="307.4" cy="297.74" r="2.5" fill="none" stroke="#1818d0" stroke-width="1.3"/>
<circle cx="307.4" cy="305.14" r="2.5" fill="none" stroke="#1818d0" stroke-width="1.3"/>
<path d="M318.2 277.57L321.2 272.02L315.2 272.02Z" fill="none" stroke="#c818c8" stroke-width="1.3"/>
<path d="M318.2 293.62L321.2 288.07L315.2 288.07Z" fill="none" stroke="#c818c8" stroke-width="1.3"/>
<path d="M318.2 297.33L321.2 291.78L315.2 291.78Z" fill="none" stroke="#c818c8" stroke-width="1.3"/>
<path d="M318.2 303.5L321.2 297.95L315.2 297.95Z" fill="none" stroke="#c818c8" stroke-width="1.3"/>
<rect x="326" y="291.43" width="5.99" height="5.21" fill="none" stroke="#c89868" stroke-width="1.3"/>
<rect x="326" y="296.37" width="5.99" height="5.21" fill="none" stroke="#c89868" stroke-width="1.3"/>
<rect x="326" y="300.56" width="5.99" height="5.21" fill="none" stroke="#c89868" stroke-width="1.3"/>
<rect x="326" y="305.01" width="5.99" height="5.21" fill="none" stroke="#c89868" stroke-width="1.3"/>
<rect x="326" y="309.46" width="5.99" height="5.21" fill="none" stroke="#c89868" stroke-width="1.3"/>
<path d="M282.2 310.08H289.4" stroke="#000" stroke-width="1.4"/>
<path d="M293 301.44H300.2" stroke="#000" stroke-width="1.4"/>
<path d="M303.8 294.03H311" stroke="#000" stroke-width="1.4"/>
<path d="M314.6 291.56H321.8" stroke="#000" stroke-width="1.4"/>
<path d="M325.4 305.14H332.6" stroke="#000" stroke-width="1.4"/>
<text x="307.4" y="281.86" font-size="6.8" font-weight="normal" text-anchor="middle" fill="#000">#</text>
<text x="318.2" y="275.45" font-size="13" font-weight="normal" text-anchor="middle" fill="#000">**</text>
<text x="246.2" y="330.9" font-size="6.2" font-weight="bold" text-anchor="middle" fill="#000">unstimulated</text>
<text x="307.7" y="330.9" font-size="6.3" font-weight="bold" text-anchor="middle" fill="#000">CD3/CD28</text>
<path d="M361.5 179.5V208.6" stroke="#000" stroke-width="1.1"/>
<path d="M361.5 212.8V242" stroke="#000" stroke-width="1.1"/>
<path d="M361 241.5H485.5" stroke="#000" stroke-width="1.1"/>
<path d="M360 236.85H361.5" stroke="#000" stroke-width="0.7"/>
<path d="M360 227.55H361.5" stroke="#000" stroke-width="0.7"/>
<path d="M360 218.25H361.5" stroke="#000" stroke-width="0.7"/>
<path d="M360 203.4H361.5" stroke="#000" stroke-width="0.7"/>
<path d="M360 194H361.5" stroke="#000" stroke-width="0.7"/>
<path d="M360 184.6H361.5" stroke="#000" stroke-width="0.7"/>
<path d="M359 241.5H361.5" stroke="#000" stroke-width="0.9"/>
<text x="358.9" y="243.7" font-size="6.3" font-weight="bold" text-anchor="end" fill="#111">0</text>
<path d="M359 232.2H361.5" stroke="#000" stroke-width="0.9"/>
<text x="358.9" y="234.4" font-size="6.3" font-weight="bold" text-anchor="end" fill="#111">5</text>
<path d="M359 222.9H361.5" stroke="#000" stroke-width="0.9"/>
<text x="358.9" y="225.1" font-size="6.3" font-weight="bold" text-anchor="end" fill="#111">10</text>
<path d="M359 213.6H361.5" stroke="#000" stroke-width="0.9"/>
<text x="358.9" y="215.8" font-size="6.3" font-weight="bold" text-anchor="end" fill="#111">15</text>
<path d="M359 208.1H361.5" stroke="#000" stroke-width="0.9"/>
<text x="358.9" y="210.3" font-size="6.3" font-weight="bold" text-anchor="end" fill="#111">30</text>
<path d="M359 198.7H361.5" stroke="#000" stroke-width="0.9"/>
<text x="358.9" y="200.9" font-size="6.3" font-weight="bold" text-anchor="end" fill="#111">40</text>
<path d="M359 189.3H361.5" stroke="#000" stroke-width="0.9"/>
<text x="358.9" y="191.5" font-size="6.3" font-weight="bold" text-anchor="end" fill="#111">50</text>
<path d="M359 179.9H361.5" stroke="#000" stroke-width="0.9"/>
<text x="358.9" y="182.1" font-size="6.3" font-weight="bold" text-anchor="end" fill="#111">60</text>
<path d="M370.5 238.4L373.6 241.5L370.5 244.6L367.4 241.5Z" fill="none" stroke="#d81c1c" stroke-width="1.3"/>
<path d="M381.4 186.69L384.2 191.87L378.6 191.87Z" fill="none" stroke="#28d828" stroke-width="1.3"/>
<path d="M381.4 189.98L384.2 195.16L378.6 195.16Z" fill="none" stroke="#28d828" stroke-width="1.3"/>
<path d="M381.4 191.39L384.2 196.57L378.6 196.57Z" fill="none" stroke="#28d828" stroke-width="1.3"/>
<path d="M381.4 192.33L384.2 197.51L378.6 197.51Z" fill="none" stroke="#28d828" stroke-width="1.3"/>
<circle cx="392.1" cy="240.94" r="2.5" fill="none" stroke="#1818d0" stroke-width="1.3"/>
<path d="M402.8 244.24L405.8 238.69L399.8 238.69Z" fill="none" stroke="#c818c8" stroke-width="1.3"/>
<rect x="410.5" y="238.34" width="5.99" height="5.21" fill="none" stroke="#c89868" stroke-width="1.3"/>
<path d="M432.1 227.24L435.2 230.34L432.1 233.44L429 230.34Z" fill="none" stroke="#d81c1c" stroke-width="1.3"/>
<path d="M432.1 231.15L435.2 234.25L432.1 237.35L429 234.25Z" fill="none" stroke="#d81c1c" stroke-width="1.3"/>
<path d="M432.1 233.75L435.2 236.85L432.1 239.95L429 236.85Z" fill="none" stroke="#d81c1c" stroke-width="1.3"/>
<path d="M432.1 236.17L435.2 239.27L432.1 242.37L429 239.27Z" fill="none" stroke="#d81c1c" stroke-width="1.3"/>
<path d="M442.9 184.34L445.7 189.52L440.1 189.52Z" fill="none" stroke="#28d828" stroke-width="1.3"/>
<path d="M442.9 187.16L445.7 192.34L440.1 192.34Z" fill="none" stroke="#28d828" stroke-width="1.3"/>
<path d="M442.9 191.39L445.7 196.57L440.1 196.57Z" fill="none" stroke="#28d828" stroke-width="1.3"/>
<path d="M442.9 195.62L445.7 200.8L440.1 200.8Z" fill="none" stroke="#28d828" stroke-width="1.3"/>
<circle cx="453.7" cy="213.97" r="2.5" fill="none" stroke="#1818d0" stroke-width="1.3"/>
<circle cx="453.7" cy="221.78" r="2.5" fill="none" stroke="#1818d0" stroke-width="1.3"/>
<circle cx="453.7" cy="223.83" r="2.5" fill="none" stroke="#1818d0" stroke-width="1.3"/>
<circle cx="453.7" cy="226.62" r="2.5" fill="none" stroke="#1818d0" stroke-width="1.3"/>
<circle cx="453.7" cy="231.46" r="2.5" fill="none" stroke="#1818d0" stroke-width="1.3"/>
<path d="M464.5 234.38L467.5 228.83L461.5 228.83Z" fill="none" stroke="#c818c8" stroke-width="1.3"/>
<path d="M464.5 235.5L467.5 229.95L461.5 229.95Z" fill="none" stroke="#c818c8" stroke-width="1.3"/>
<path d="M464.5 240.52L467.5 234.97L461.5 234.97Z" fill="none" stroke="#c818c8" stroke-width="1.3"/>
<rect x="472.3" y="227.74" width="5.99" height="5.21" fill="none" stroke="#c89868" stroke-width="1.3"/>
<rect x="472.3" y="229.6" width="5.99" height="5.21" fill="none" stroke="#c89868" stroke-width="1.3"/>
<rect x="472.3" y="231.46" width="5.99" height="5.21" fill="none" stroke="#c89868" stroke-width="1.3"/>
<rect x="472.3" y="233.32" width="5.99" height="5.21" fill="none" stroke="#c89868" stroke-width="1.3"/>
<rect x="472.3" y="236.11" width="5.99" height="5.21" fill="none" stroke="#c89868" stroke-width="1.3"/>
<path d="M377.8 192.59H385" stroke="#000" stroke-width="1.4"/>
<path d="M428.5 236.85H435.7" stroke="#000" stroke-width="1.4"/>
<path d="M439.3 192.59H446.5" stroke="#000" stroke-width="1.4"/>
<path d="M450.1 225.13H457.3" stroke="#000" stroke-width="1.4"/>
<path d="M460.9 235.36H468.1" stroke="#000" stroke-width="1.4"/>
<path d="M471.7 233.32H478.9" stroke="#000" stroke-width="1.4"/>
<text x="381.4" y="184.46" font-size="6.8" font-weight="normal" text-anchor="middle" fill="#000">#</text>
<text x="453.7" y="215.62" font-size="13" font-weight="normal" text-anchor="middle" fill="#000">**</text>
<text x="416.6" y="172" font-size="8" font-weight="bold" text-anchor="start" fill="#000" textLength="13.3" lengthAdjust="spacingAndGlyphs">IL-2</text>
<path d="M362.4 261.4V291" stroke="#000" stroke-width="1.1"/>
<path d="M362.4 294.2V323.3" stroke="#000" stroke-width="1.1"/>
<path d="M361.9 322.8H486.4" stroke="#000" stroke-width="1.1"/>
<path d="M360.9 318.15H362.4" stroke="#000" stroke-width="0.7"/>
<path d="M360.9 308.85H362.4" stroke="#000" stroke-width="0.7"/>
<path d="M360.9 299.55H362.4" stroke="#000" stroke-width="0.7"/>
<path d="M360.9 285.3H362.4" stroke="#000" stroke-width="0.7"/>
<path d="M360.9 275.9H362.4" stroke="#000" stroke-width="0.7"/>
<path d="M360.9 266.5H362.4" stroke="#000" stroke-width="0.7"/>
<path d="M359.9 322.8H362.4" stroke="#000" stroke-width="0.9"/>
<text x="359.8" y="325" font-size="6.3" font-weight="bold" text-anchor="end" fill="#111">0</text>
<path d="M359.9 313.5H362.4" stroke="#000" stroke-width="0.9"/>
<text x="359.8" y="315.7" font-size="6.3" font-weight="bold" text-anchor="end" fill="#111">5</text>
<path d="M359.9 304.2H362.4" stroke="#000" stroke-width="0.9"/>
<text x="359.8" y="306.4" font-size="6.3" font-weight="bold" text-anchor="end" fill="#111">10</text>
<path d="M359.9 294.9H362.4" stroke="#000" stroke-width="0.9"/>
<text x="359.8" y="297.1" font-size="6.3" font-weight="bold" text-anchor="end" fill="#111">15</text>
<path d="M359.9 290H362.4" stroke="#000" stroke-width="0.9"/>
<text x="359.8" y="292.2" font-size="6.3" font-weight="bold" text-anchor="end" fill="#111">30</text>
<path d="M359.9 280.6H362.4" stroke="#000" stroke-width="0.9"/>
<text x="359.8" y="282.8" font-size="6.3" font-weight="bold" text-anchor="end" fill="#111">40</text>
<path d="M359.9 271.2H362.4" stroke="#000" stroke-width="0.9"/>
<text x="359.8" y="273.4" font-size="6.3" font-weight="bold" text-anchor="end" fill="#111">50</text>
<path d="M359.9 261.8H362.4" stroke="#000" stroke-width="0.9"/>
<text x="359.8" y="264" font-size="6.3" font-weight="bold" text-anchor="end" fill="#111">60</text>
<path d="M371.4 319.7L374.5 322.8L371.4 325.9L368.3 322.8Z" fill="none" stroke="#d81c1c" stroke-width="1.3"/>
<path d="M382.3 262.01L385.1 267.19L379.5 267.19Z" fill="none" stroke="#28d828" stroke-width="1.3"/>
<path d="M382.3 265.77L385.1 270.95L379.5 270.95Z" fill="none" stroke="#28d828" stroke-width="1.3"/>
<path d="M382.3 271.32L385.1 276.5L379.5 276.5Z" fill="none" stroke="#28d828" stroke-width="1.3"/>
<path d="M382.3 280.25L385.1 285.43L379.5 285.43Z" fill="none" stroke="#28d828" stroke-width="1.3"/>
<circle cx="393" cy="322.06" r="2.5" fill="none" stroke="#1818d0" stroke-width="1.3"/>
<path d="M403.7 323.5L406.7 317.95L400.7 317.95Z" fill="none" stroke="#c818c8" stroke-width="1.3"/>
<path d="M403.7 325.36L406.7 319.81L400.7 319.81Z" fill="none" stroke="#c818c8" stroke-width="1.3"/>
<rect x="411.4" y="317.59" width="5.99" height="5.21" fill="none" stroke="#c89868" stroke-width="1.3"/>
<rect x="411.4" y="319.64" width="5.99" height="5.21" fill="none" stroke="#c89868" stroke-width="1.3"/>
<path d="M433 305.75L436.1 308.85L433 311.95L429.9 308.85Z" fill="none" stroke="#d81c1c" stroke-width="1.3"/>
<path d="M433 315.61L436.1 318.71L433 321.81L429.9 318.71Z" fill="none" stroke="#d81c1c" stroke-width="1.3"/>
<path d="M433 316.91L436.1 320.01L433 323.11L429.9 320.01Z" fill="none" stroke="#d81c1c" stroke-width="1.3"/>
<path d="M433 317.84L436.1 320.94L433 324.04L429.9 320.94Z" fill="none" stroke="#d81c1c" stroke-width="1.3"/>
<path d="M443.8 264.27L446.6 269.45L441 269.45Z" fill="none" stroke="#28d828" stroke-width="1.3"/>
<path d="M443.8 277.99L446.6 283.17L441 283.17Z" fill="none" stroke="#28d828" stroke-width="1.3"/>
<path d="M443.8 282.5L446.6 287.68L441 287.68Z" fill="none" stroke="#28d828" stroke-width="1.3"/>
<circle cx="454.6" cy="304.39" r="2.5" fill="none" stroke="#1818d0" stroke-width="1.3"/>
<circle cx="454.6" cy="307.92" r="2.5" fill="none" stroke="#1818d0" stroke-width="1.3"/>
<circle cx="454.6" cy="310.71" r="2.5" fill="none" stroke="#1818d0" stroke-width="1.3"/>
<circle cx="454.6" cy="312.94" r="2.5" fill="none" stroke="#1818d0" stroke-width="1.3"/>
<circle cx="454.6" cy="315.55" r="2.5" fill="none" stroke="#1818d0" stroke-width="1.3"/>
<path d="M465.4 314.38L468.4 308.83L462.4 308.83Z" fill="none" stroke="#c818c8" stroke-width="1.3"/>
<path d="M465.4 316.43L468.4 310.88L462.4 310.88Z" fill="none" stroke="#c818c8" stroke-width="1.3"/>
<path d="M465.4 319.96L468.4 314.41L462.4 314.41Z" fill="none" stroke="#c818c8" stroke-width="1.3"/>
<rect x="473.2" y="308.11" width="5.99" height="5.21" fill="none" stroke="#c89868" stroke-width="1.3"/>
<rect x="473.2" y="310.9" width="5.99" height="5.21" fill="none" stroke="#c89868" stroke-width="1.3"/>
<rect x="473.2" y="313.69" width="5.99" height="5.21" fill="none" stroke="#c89868" stroke-width="1.3"/>
<rect x="473.2" y="316.48" width="5.99" height="5.21" fill="none" stroke="#c89868" stroke-width="1.3"/>
<rect x="473.2" y="318.34" width="5.99" height="5.21" fill="none" stroke="#c89868" stroke-width="1.3"/>
<path d="M378.7 270.35H385.9" stroke="#000" stroke-width="1.4"/>
<path d="M429.4 318.89H436.6" stroke="#000" stroke-width="1.4"/>
<path d="M440.2 277.12H447.4" stroke="#000" stroke-width="1.4"/>
<path d="M451 310.34H458.2" stroke="#000" stroke-width="1.4"/>
<path d="M461.8 313.5H469" stroke="#000" stroke-width="1.4"/>
<path d="M472.6 315.55H479.8" stroke="#000" stroke-width="1.4"/>
<text x="382.3" y="258.56" font-size="6.8" font-weight="normal" text-anchor="middle" fill="#000">#</text>
<text x="393.4" y="332.5" font-size="6.2" font-weight="bold" text-anchor="middle" fill="#000">unstimulated</text>
<text x="454.9" y="332.5" font-size="6.3" font-weight="bold" text-anchor="middle" fill="#000">CD3/CD28</text>
<rect x="103.1" y="339" width="343" height="18.6" fill="none" stroke="#000" stroke-width="1.5"/>
<path d="M112 345.3L115.1 348.4L112 351.5L108.9 348.4Z" fill="none" stroke="#d81c1c" stroke-width="1.3"/>
<text x="120.6" y="351.1" font-size="7.45" font-weight="normal" text-anchor="start" fill="#000">19z1-&#916;LNGFR</text>
<path d="M197.5 345.32L200.3 350.5L194.7 350.5Z" fill="none" stroke="#28d828" stroke-width="1.3"/>
<text x="206.5" y="351.1" font-size="7.45" font-weight="normal" text-anchor="start" fill="#000">19z1-IL2</text>
<circle cx="264" cy="348.4" r="2.5" fill="none" stroke="#1818d0" stroke-width="1.3"/>
<text x="272.5" y="351.1" font-size="7.45" font-weight="normal" text-anchor="start" fill="#000">19z1-IL7</text>
<path d="M329.5 351.7L332.5 346.15L326.5 346.15Z" fill="none" stroke="#c818c8" stroke-width="1.3"/>
<text x="338" y="351.1" font-size="7.45" font-weight="normal" text-anchor="start" fill="#000">19z1-IL15</text>
<rect x="396.48" y="345.18" width="6.44" height="6.44" fill="none" stroke="#c89868" stroke-width="1.3"/>
<text x="408.9" y="351.1" font-size="7.45" font-weight="normal" text-anchor="start" fill="#000">19z1-IL21</text>
</svg>
</body></html>
